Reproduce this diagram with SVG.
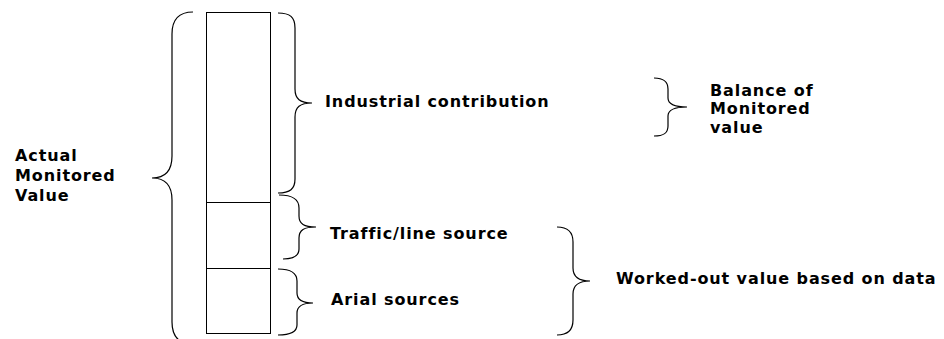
<svg xmlns="http://www.w3.org/2000/svg" width="944" height="339" viewBox="0 0 944 339">
<style>
.t{font-family:"DejaVu Sans","Verdana",sans-serif;font-weight:bold;font-size:16px;letter-spacing:0.9px;fill:#000}
.b{fill:none;stroke:#000;stroke-width:1.2}
.box{fill:#fff;stroke:#000;stroke-width:1}
</style>
<rect width="944" height="339" fill="#fff"/>
<g id="column">
<rect class="box" x="206.5" y="12.5" width="64" height="321"/>
<line x1="206.5" y1="202.5" x2="270.5" y2="202.5" stroke="#000" stroke-width="1"/>
<line x1="206.5" y1="268.5" x2="270.5" y2="268.5" stroke="#000" stroke-width="1"/>
</g>
<g id="connectors">
<path class="b" d="M193,12 C178,12 172,20 172,34 L172,156 C172,170 166,178 152,178 C166,178 172,186 172,200 L172,322 C172,336 178,344 193,344"/>
<path class="b" d="M278,13 C290,13 295,17 295,28 L295,89 C295,99 300,103 312,103 C300,103 295,107 295,117 L295,179 C295,189 290,193 278,193"/>
<path class="b" d="M279,195 C293,195 299,199 299,208 L299,216 C299,224 304,227 316,227 C304,227 299,230 299,238 L299,249 C299,256 294,259 283,259"/>
<path class="b" d="M278,269 C291,269 297,273 297,281 L297,293 C297,300 302,303 313,303 C302,303 297,306 297,313 L297,325 C297,332 291,335 278,335"/>
<path class="b" d="M654,78 C664,78 668,82 668,89 L668,98 C668,104 673,107 687,107 C673,107 668,110 668,116 L668,126 C668,133 664,136 654,136"/>
<path class="b" d="M557,227 C568,227 573,232 573,242 L573,268 C573,276 578,281 590,281 C578,281 573,286 573,294 L573,320 C573,330 568,335 557,335"/>
</g>
<g id="actual">
<text class="t" x="15" y="161">Actual</text>
<text class="t" x="15" y="181">Monitored</text>
<text class="t" x="15" y="201">Value</text>
</g>
<g id="industrial"><text class="t" x="325" y="107">Industrial contribution</text></g>
<g id="traffic"><text class="t" x="330" y="239">Traffic/line source</text></g>
<g id="arial"><text class="t" x="331" y="305">Arial sources</text></g>
<g id="balance">
<text class="t" x="710" y="95.5">Balance of</text>
<text class="t" x="710" y="114">Monitored</text>
<text class="t" x="710" y="132.5">value</text>
</g>
<g id="workedout"><text class="t" x="616" y="284">Worked-out value based on data</text></g>
</svg>
